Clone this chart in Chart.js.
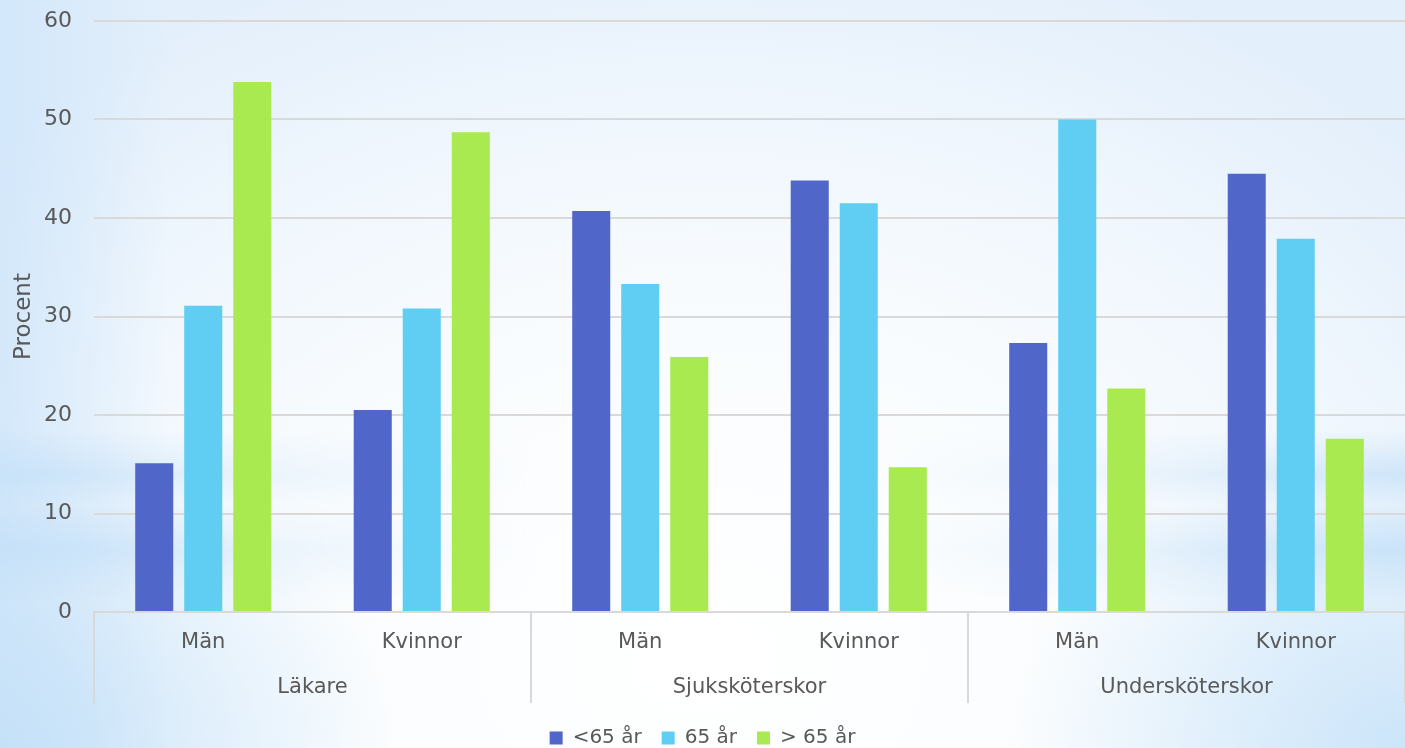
<!DOCTYPE html>
<html>
<head>
<meta charset="utf-8">
<script src="https://cdn.jsdelivr.net/npm/chart.js@4/dist/chart.umd.min.js"></script>
<style>
  html, body { margin: 0; padding: 0; }
  body {
    width: 1405px; height: 748px; overflow: hidden; position: relative;
    background:
      linear-gradient(to right, rgba(208,230,250,0.85) 0%, rgba(208,230,250,0) 12%),
      radial-gradient(ellipse 70% 100% at 50% 88%, #ffffff 0%, #f9fcfe 45%, #eff6fd 75%, #e3effb 100%);
  }
  .bands {
    position: absolute; left: 0; top: 0; width: 1405px; height: 748px;
    background: linear-gradient(to bottom,
      rgba(196,224,248,0) 0px, rgba(196,224,248,0) 430px,
      rgba(196,224,248,0.75) 475px, rgba(196,224,248,0.15) 505px,
      rgba(196,224,248,0.85) 550px, rgba(196,224,248,0) 600px,
      rgba(196,224,248,0) 748px);
    -webkit-mask-image: linear-gradient(to right, #000 0%, rgba(0,0,0,0.3) 20%, rgba(0,0,0,0) 38%, rgba(0,0,0,0) 62%, rgba(0,0,0,0.3) 80%, #000 100%);
    mask-image: linear-gradient(to right, #000 0%, rgba(0,0,0,0.3) 20%, rgba(0,0,0,0) 38%, rgba(0,0,0,0) 62%, rgba(0,0,0,0.3) 80%, #000 100%);
  }
  .corner {
    position: absolute; left: 0; top: 0; width: 1405px; height: 748px;
    background:
      radial-gradient(ellipse 28% 40% at 100% 100%, rgba(200,227,249,0.9) 0%, rgba(200,227,249,0) 100%),
      radial-gradient(ellipse 28% 40% at 0% 100%, rgba(195,224,248,0.9) 0%, rgba(195,224,248,0) 100%);
  }
  #wrap { position: absolute; left: 0; top: 0; width: 1405px; height: 748px; }
</style>
</head>
<body>
<div class="corner"></div>
<div class="bands"></div>
<div id="wrap"><canvas id="c" width="1405" height="748"></canvas></div>
<script>
const categories = ["Män", "Kvinnor", "Män", "Kvinnor", "Män", "Kvinnor"];
const groups = ["Läkare", "Sjuksköterskor", "Undersköterskor"];
const seriesNames = ["<65 år", "65 år", "> 65 år"];
const under65 = [15.1, 20.5, 40.7, 43.8, 27.3, 44.5];
const at65 = [31.1, 30.8, 33.3, 41.5, 50.0, 37.9];
const over65 = [53.8, 48.7, 25.9, 14.7, 22.7, 17.6];
const yTicks = [0, 10, 20, 30, 40, 50, 60];

const FONT = "'DejaVu Sans', sans-serif";
const TEXT = "#595959";
const GRID = "#d9d9d9";
const LEGEND_PAD = 20;

const groupPlugin = {
  id: 'groupLabels',
  afterLayout(chart) {
    const lg = chart.legend;
    if (lg) {
      const shift = 738 - (lg.top + LEGEND_PAD + 10);
      lg.top += shift;
      lg.bottom += shift;
    }
  },
  afterDraw(chart) {
    const ctx = chart.ctx;
    const x = chart.scales.x;
    const area = chart.chartArea;
    const n = categories.length;
    const per = n / groups.length;
    const boundary = (i) => {
      if (i <= 0) return area.left;
      if (i >= n) return area.right;
      return (x.getPixelForValue(i - 1) + x.getPixelForValue(i)) / 2;
    };
    ctx.save();
    ctx.strokeStyle = GRID;
    ctx.lineWidth = 2;
    for (let g = 0; g <= groups.length; g++) {
      const bx = Math.round(boundary(g * per));
      ctx.beginPath();
      ctx.moveTo(bx, area.bottom);
      ctx.lineTo(bx, area.bottom + 91);
      ctx.stroke();
    }
    ctx.fillStyle = TEXT;
    ctx.font = "21px " + FONT;
    ctx.textAlign = 'center';
    ctx.textBaseline = 'middle';
    for (let g = 0; g < groups.length; g++) {
      const cx = (boundary(g * per) + boundary((g + 1) * per)) / 2;
      ctx.fillText(groups[g], cx, area.bottom + 76);
    }
    ctx.restore();
  }
};

new Chart(document.getElementById('c'), {
  type: 'bar',
  data: {
    labels: categories,
    datasets: [
      { label: seriesNames[0], data: under65, backgroundColor: '#5067C9' },
      { label: seriesNames[1], data: at65, backgroundColor: '#60CDF3' },
      { label: seriesNames[2], data: over65, backgroundColor: '#A9EA50' }
    ]
  },
  options: {
    responsive: false,
    animation: false,
    events: [],
    layout: { padding: { top: 21, right: 0, bottom: 0, left: 0 } },
    datasets: { bar: { categoryPercentage: 0.673, barPercentage: 0.776 } },
    scales: {
      x: {
        grid: { display: false, drawTicks: false },
        border: { display: true, color: GRID, width: 2 },
        ticks: { color: TEXT, font: { family: FONT, size: 21 }, padding: 18, maxRotation: 0, autoSkip: false },
        afterFit(s) { s.height = 86; }
      },
      y: {
        min: 0, max: 60,
        afterBuildTicks(s) { s.ticks = yTicks.map(v => ({ value: v })); },
        grid: { color: GRID, lineWidth: 2, drawTicks: false },
        border: { display: false },
        ticks: { color: TEXT, font: { family: FONT, size: 22 }, padding: 22 },
        title: { display: true, text: 'Procent', color: TEXT, font: { family: FONT, size: 23 }, padding: { top: 10, bottom: 0 } },
        afterFit(s) { s.width = 94; s.paddingTop = 14; s.paddingBottom = 14; }
      }
    },
    plugins: {
      tooltip: { enabled: false },
      legend: {
        position: 'bottom',
        labels: { color: TEXT, font: { family: FONT, size: 20 }, boxWidth: 13, boxHeight: 13, padding: LEGEND_PAD }
      }
    }
  },
  plugins: [groupPlugin]
});
</script>
</body>
</html>
